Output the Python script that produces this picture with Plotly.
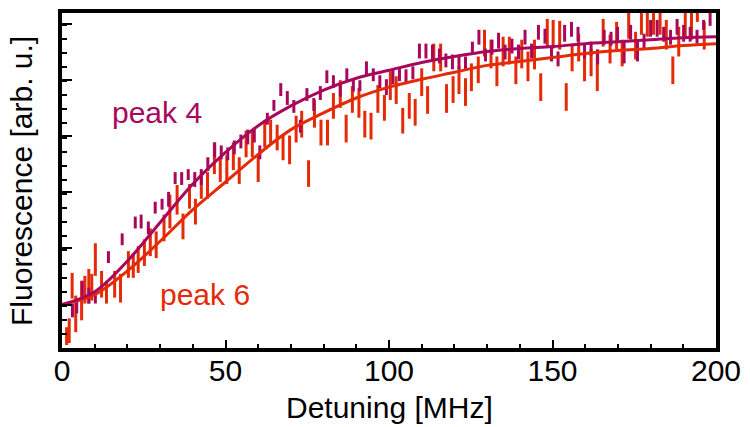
import plotly.graph_objects as go

# ---- data (fluorescence in arbitrary units) ----
red_x = [1.4, 2.2, 3.1, 4.2, 6.0, 7.0, 8.2, 9.1, 10.2, 12.1,
         13.6, 16.1, 17.9, 20.3, 21.8, 23.3, 25.2, 27.0, 28.8, 31.2,
         33.0, 35.2, 37.0, 39.0, 40.8, 42.6, 44.5, 46.6, 48.4, 50.4,
         52.4, 54.2, 56.3, 58.2, 60.0, 62.0, 63.8, 65.8, 67.6, 69.6,
         71.6, 73.3, 75.4, 77.2, 79.2, 81.2, 83.0, 85.1, 86.9, 88.8,
         90.8, 92.6, 94.5, 96.6, 98.6, 100.4, 102.2, 104.2, 106.2, 108.0,
         110.0, 111.8, 113.7, 115.8, 117.6, 119.6, 121.4, 123.4, 125.2, 127.3,
         129.2, 131.2, 133.0, 134.9, 136.8, 138.8, 140.6, 142.5, 144.5, 146.4,
         148.4, 150.2, 152.2, 154.2, 156.0, 158.0, 159.8, 161.8, 163.7, 165.5,
         167.6, 169.6, 171.3, 173.3, 175.4, 177.2, 179.0, 180.9, 182.9, 184.8,
         186.8, 188.6, 190.6, 192.5, 194.3, 196.4]
red_y = [12, 17.5, 63, 34.5, 48, 59, 62.5, 61.5, 89.5, 64.5,
         56.5, 64.5, 60.5, 84.5, 83.5, 89.5, 96.5, 107, 104.5, 121.5,
         138, 150, 123, 153.5, 138, 164.5, 164.5, 192, 180.5, 180.5,
         194, 179.5, 206.5, 207, 181.5, 216.5, 218.5, 213, 203, 200.5,
         221.5, 226.5, 176.5, 237, 218, 218, 245, 257, 222, 251.5,
         248, 226.5, 224.5, 252, 243, 265.5, 261, 230, 245, 238.5,
         269, 251, 294, 294, 252.5, 261.5, 271, 259, 274, 281.5,
         308.5, 297.5, 280, 300, 301, 281, 297.5, 285, 297, 264,
         319, 317.5, 316.5, 254, 294, 304, 284, 289, 281, 319,
         302.5, 316, 298.5, 327, 306, 331, 329, 331, 331, 317,
         281, 310, 327, 326, 344, 316]
red_err = [9, 12.5, 13, 18.5, 20, 14, 17.5, 13.5, 16.5, 13.5,
           11.5, 13.5, 14.5, 13.5, 12.5, 13.5, 13.5, 14, 13.5, 13.5,
           17, 15, 13, 12.5, 13, 13.5, 13.5, 16, 12.5, 14.5,
           14, 13.5, 13.5, 14, 13.5, 13.5, 12.5, 13, 13, 14.5,
           13.5, 13.5, 13.5, 14, 13, 13, 13, 14, 14, 13.5,
           15, 13.5, 13.5, 14, 13, 14.5, 14, 13, 13, 13.5,
           14, 14, 14, 14, 14.5, 13.5, 14, 14, 14, 13.5,
           13.5, 14.5, 15, 15, 14, 14, 14.5, 15, 15, 14,
           14, 14.5, 14.5, 14, 14, 14, 14, 14, 21, 14,
           14.5, 14, 13.5, 14, 14, 14, 14, 14, 14, 15,
           14, 15, 14, 14, 14, 14]

pur_x = [3.2, 4.5, 6.2, 8.2, 10.2, 14.2, 18.4, 22.4, 24.2, 26.4,
         28.5, 30.6, 32.6, 34.6, 36.6, 38.6, 40.6, 42.6, 44.6, 46.7,
         48.7, 50.7, 52.7, 54.7, 56.8, 58.8, 60.5, 62.8, 64.8, 66.9,
         68.9, 70.9, 72.9, 74.9, 77.0, 79.0, 81.0, 83.0, 85.1, 87.1,
         89.1, 91.1, 93.1, 95.2, 97.2, 99.2, 101.2, 103.2, 105.2, 107.3,
         109.3, 111.3, 113.3, 115.4, 117.4, 119.4, 121.4, 123.4, 125.5, 127.5,
         129.5, 131.5, 133.5, 135.5, 137.6, 139.6, 141.6, 143.6, 145.7, 147.7,
         149.7, 151.7, 153.7, 155.8, 157.8, 159.8, 161.8, 163.8, 165.8, 167.9,
         169.9, 171.9, 173.9, 176.0, 178.0, 180.0, 182.0, 184.0, 186.1, 188.1,
         190.1, 192.1, 194.2, 196.2, 198.2]
pur_y = [38, 42.5, 60.5, 53, 51.5, 92, 110, 127, 128, 121.5,
         142, 145.5, 150.5, 172, 171.5, 175.5, 170.5, 173, 186, 200.5,
         198, 196.5, 203, 209, 213.5, 215.5, 198, 232, 245.5, 261.5,
         253, 244.5, 224.5, 256.5, 246.5, 258, 274.5, 269.5, 261, 276.5,
         266, 265.5, 283, 276.5, 269.5, 264, 274.5, 276.5, 275, 278.5,
         300.5, 300.5, 298.5, 295.5, 291, 289.5, 289, 288.5, 303.5, 314.5,
         296.5, 304.5, 311, 299.5, 305.5, 299.5, 314.5, 300.5, 319.5, 315.5,
         297.5, 292.5, 318.5, 322.5, 317.5, 300, 303, 294.5, 314.5, 313,
         318, 299, 319.5, 301, 310.5, 323.5, 323.5, 317.5, 314.5, 325,
         318.5, 317.5, 315, 327, 333]
pur_err = [7, 7.5, 7.5, 8, 6.5, 6, 6, 6, 7, 6.5,
           6, 5.5, 7.5, 6, 6.5, 5.5, 7.5, 8, 7, 7.5,
           7, 6.5, 7, 7, 7.5, 7.5, 7, 6, 5.5, 6.5,
           7, 6.5, 6.5, 6.5, 6.5, 7, 6.5, 6.5, 6.5, 6.5,
           6.5, 5.5, 7, 6.5, 6.5, 8, 7.5, 6.5, 7, 6.5,
           7.5, 7.5, 8.5, 7.5, 7, 7.5, 7, 6.5, 6.5, 7.5,
           6.5, 7.5, 8, 7.5, 7.5, 7.5, 7.5, 7.5, 7.5, 7.5,
           7.5, 7.5, 8.5, 7.5, 7.5, 7, 7, 7.5, 7.5, 7,
           7, 11, 7.5, 11, 7.5, 8.5, 8.5, 7.5, 7.5, 8,
           8.5, 7.5, 7, 5, 7]

fit_x = [0, 10, 20, 30, 40, 50, 60, 70, 80, 90, 100,
         110, 120, 130, 140, 150, 160, 170, 180, 190, 200]
fit_red = [44, 54, 78, 108, 140, 168, 196, 221, 238, 253, 264,
           272, 279, 286, 290, 294, 298, 301, 303, 306, 308]
fit_pur = [44, 57, 88, 127, 166, 198, 225, 245, 261, 273, 281,
           289, 295, 300, 303, 305, 308, 310, 312, 314, 315]

RED = "#E42A06"
PUR = "#A8085C"
FONT = "Liberation Sans, Arial, sans-serif"
FS = 30

fig = go.Figure()
for xs, ys, es, col in [(red_x, red_y, red_err, RED), (pur_x, pur_y, pur_err, PUR)]:
    fig.add_trace(go.Scatter(
        x=xs, y=ys, mode="markers",
        marker=dict(size=0.1, color=col, opacity=0),
        error_y=dict(type="data", array=es, symmetric=True, color=col,
                     thickness=3, width=0),
        showlegend=False, hoverinfo="skip"))
fig.add_trace(go.Scatter(x=fit_x, y=fit_red, mode="lines",
                         line=dict(color=RED, width=3, shape="spline"),
                         showlegend=False))
fig.add_trace(go.Scatter(x=fit_x, y=fit_pur, mode="lines",
                         line=dict(color=PUR, width=3, shape="spline"),
                         showlegend=False))

fig.add_annotation(x=29.1, y=238, xref="x", yref="y", text="peak 4",
                   showarrow=False, font=dict(family=FONT, size=FS, color=PUR))
fig.add_annotation(x=43.8, y=54, xref="x", yref="y", text="peak 6",
                   showarrow=False, font=dict(family=FONT, size=FS, color=RED))
fig.add_annotation(x=0.5, y=-0.233, xref="paper", yref="paper", text="Detuning [MHz]",
                   showarrow=False, yanchor="bottom",
                   font=dict(family=FONT, size=FS, color="black"))
fig.add_annotation(x=-0.062, y=0.5, xref="paper", yref="paper",
                   text="Fluorescence [arb. u.]", textangle=-90,
                   showarrow=False, xanchor="center", yanchor="middle",
                   font=dict(family=FONT, size=FS, color="black"))

fig.update_layout(
    width=750, height=427,
    margin=dict(l=62, r=28, t=9, b=79),
    paper_bgcolor="white", plot_bgcolor="white",
    font=dict(family=FONT, size=FS, color="black"),
    xaxis=dict(range=[0, 200], tickmode="linear", tick0=0, dtick=50,
               ticks="inside", ticklen=8, tickwidth=2, tickcolor="black",
               minor=dict(ticks="inside", dtick=10, ticklen=4, tickwidth=2, tickcolor="black"),
               showline=True, linewidth=4, linecolor="black", mirror=True,
               showgrid=False, zeroline=False, ticklabelstandoff=-7,
               tickfont=dict(family=FONT, size=FS, color="black")),
    yaxis=dict(range=[0, 339], tickmode="linear", tick0=44, dtick=56.8,
               ticks="inside", ticklen=10, tickwidth=2, tickcolor="black",
               minor=dict(ticks="inside", dtick=14.2, ticklen=5, tickwidth=2, tickcolor="black"),
               showline=True, linewidth=4, linecolor="black", mirror=True,
               showgrid=False, zeroline=False, showticklabels=False),
)

fig.write_html("out.html")
